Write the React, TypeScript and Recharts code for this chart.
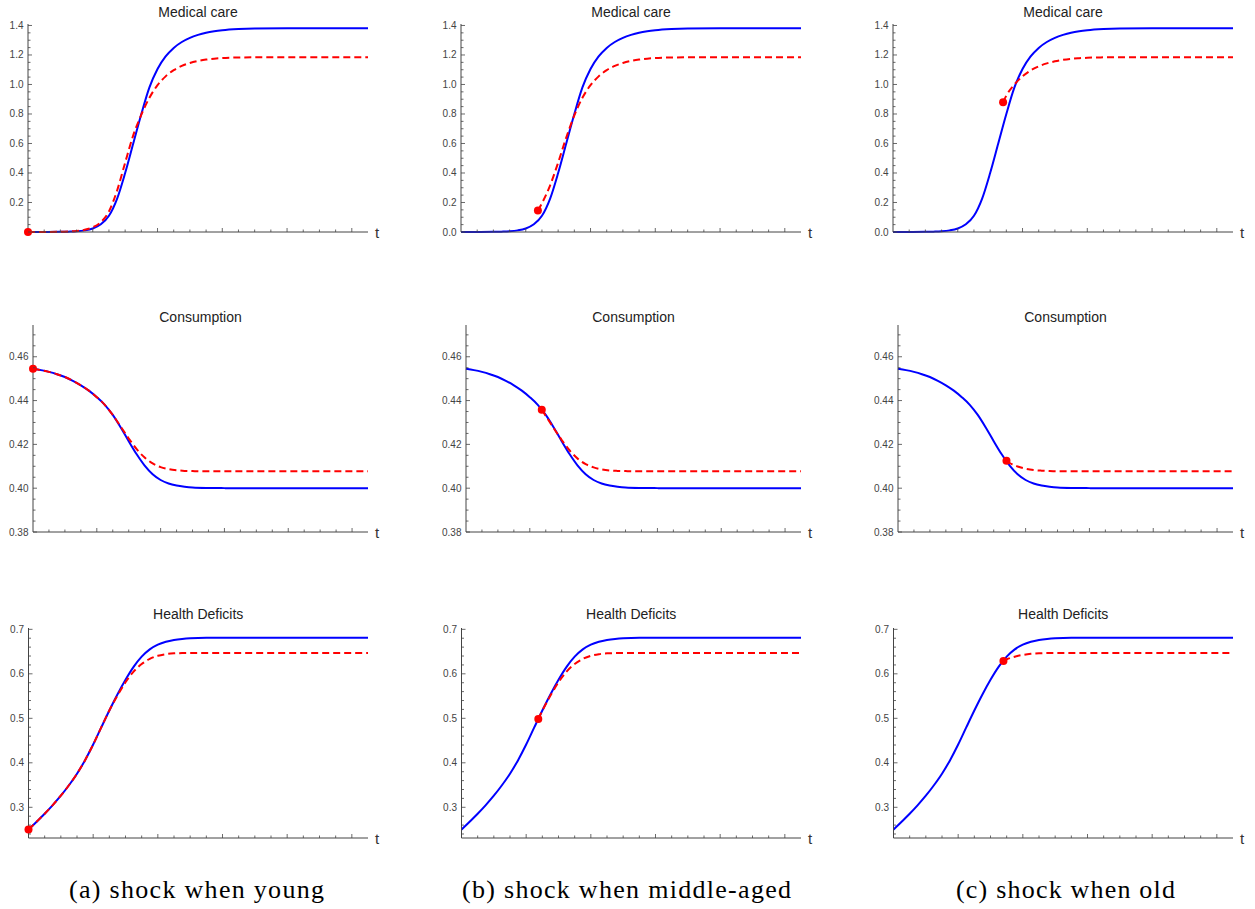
import React from 'react';
import { LineChart, Line, XAxis, YAxis, ReferenceDot } from 'recharts';

// ---------- Medical care ----------
const T_MED_BASE = [0, 1, 2, 2.5, 3, 3.5, 4, 4.5, 5, 5.5, 6, 6.5, 7, 7.5, 8, 8.5, 9, 9.5, 10, 10.5, 11, 11.5, 12, 13, 14, 16, 21];
const MED_BASE = [0, 0.0003, 0.001, 0.0025, 0.005, 0.011, 0.024, 0.052, 0.11, 0.225, 0.4, 0.6, 0.8, 0.98, 1.105, 1.19, 1.248, 1.288, 1.316, 1.336, 1.351, 1.361, 1.368, 1.376, 1.38, 1.382, 1.382];

const T_MED_A = [0, 1, 2, 2.5, 3, 3.5, 4, 4.5, 5, 5.5, 6, 6.5, 7, 7.5, 8, 8.5, 9, 9.5, 10, 10.5, 11, 11.5, 12, 13, 14, 21];
const MED_SHOCK_A = [0, 0.0005, 0.0015, 0.0035, 0.007, 0.015, 0.032, 0.067, 0.14, 0.28, 0.47, 0.655, 0.795, 0.91, 0.995, 1.055, 1.097, 1.126, 1.146, 1.16, 1.169, 1.175, 1.179, 1.183, 1.184, 1.185];

const T_MED_B = [4.75, 5, 5.5, 6, 6.5, 7, 7.5, 8, 8.5, 9, 9.5, 10, 10.5, 11, 11.5, 12, 13, 14, 21];
const MED_SHOCK_B = [0.145, 0.195, 0.315, 0.47, 0.64, 0.79, 0.91, 0.995, 1.055, 1.097, 1.126, 1.146, 1.16, 1.169, 1.175, 1.179, 1.183, 1.184, 1.185];

const T_MED_C = [6.8, 7, 7.5, 8, 8.5, 9, 9.5, 10, 10.5, 11, 11.5, 12, 13, 14, 21];
const MED_SHOCK_C = [0.88, 0.925, 1.0, 1.055, 1.095, 1.123, 1.143, 1.157, 1.167, 1.174, 1.178, 1.181, 1.184, 1.185, 1.185];

// ---------- Consumption ----------
const T_CON_BASE = [0, 0.5, 1, 1.5, 2, 2.5, 3, 3.5, 4, 4.5, 5, 5.5, 6, 6.5, 7, 7.5, 8, 8.5, 9, 9.5, 10, 11, 12, 13, 21];
const CON_BASE = [0.4545, 0.4539, 0.4531, 0.45205, 0.45075, 0.44902, 0.44698, 0.44455, 0.44156, 0.43806, 0.43344, 0.4277, 0.42145, 0.41546, 0.4103, 0.40636, 0.40374, 0.40216, 0.40124, 0.40069, 0.40033, 0.4001, 0.40003, 0.4, 0.4];

const T_CON_A = [0, 0.5, 1, 1.5, 2, 2.5, 3, 3.5, 4, 4.5, 5, 5.5, 6, 6.5, 7, 7.5, 8, 8.5, 9, 9.5, 10, 11, 21];
const CON_SHOCK_A = [0.4545, 0.4539, 0.4531, 0.45205, 0.45075, 0.44902, 0.44698, 0.44455, 0.44156, 0.43806, 0.43344, 0.4281, 0.4227, 0.4178, 0.414, 0.4113, 0.4096, 0.4087, 0.4082, 0.4079, 0.4078, 0.4077, 0.4077];

const T_CON_B = [4.75, 5, 5.5, 6, 6.5, 7, 7.5, 8, 8.5, 9, 9.5, 10, 11, 21];
const CON_SHOCK_B = [0.4358, 0.433, 0.4274, 0.422, 0.4172, 0.4135, 0.411, 0.4095, 0.4086, 0.4081, 0.4079, 0.4078, 0.4077, 0.4077];

const T_CON_C = [6.8, 7, 7.5, 8, 8.5, 9, 9.5, 10, 21];
const CON_SHOCK_C = [0.4125, 0.4115, 0.4099, 0.4089, 0.4083, 0.408, 0.4078, 0.4077, 0.4077];

// ---------- Health Deficits ----------
const T_HD_BASE = [0, 0.5, 1, 1.5, 2, 2.5, 3, 3.5, 4, 4.5, 5, 5.5, 6, 6.5, 7, 7.5, 8, 8.5, 9, 9.5, 10, 11, 12, 21];
const HD_BASE = [0.25, 0.2675, 0.2855, 0.305, 0.326, 0.3495, 0.3755, 0.406, 0.441, 0.4795, 0.5175, 0.5535, 0.5865, 0.6155, 0.6385, 0.655, 0.6655, 0.672, 0.676, 0.6785, 0.68, 0.681, 0.681, 0.681];

const T_HD_A = [0, 0.5, 1, 1.5, 2, 2.5, 3, 3.5, 4, 4.5, 5, 5.5, 6, 6.5, 7, 7.5, 8, 8.5, 9, 9.5, 10, 21];
const HD_SHOCK_A = [0.25, 0.2675, 0.2855, 0.305, 0.326, 0.3495, 0.3755, 0.406, 0.441, 0.4795, 0.5175, 0.551, 0.581, 0.605, 0.622, 0.6335, 0.6405, 0.6442, 0.646, 0.6467, 0.647, 0.647];

const T_HD_B = [4.75, 5, 5.5, 6, 6.5, 7, 7.5, 8, 8.5, 9, 9.5, 10, 21];
const HD_SHOCK_B = [0.4985, 0.5172, 0.551, 0.581, 0.605, 0.622, 0.6335, 0.6405, 0.6442, 0.646, 0.6467, 0.647, 0.647];

const T_HD_C = [6.8, 7, 7.5, 8, 8.5, 9, 9.5, 10, 21];
const HD_SHOCK_C = [0.629, 0.6325, 0.6385, 0.6425, 0.6449, 0.6462, 0.6468, 0.647, 0.647];

// ---------- Axes / labels ----------
const TITLES = ['Medical care', 'Consumption', 'Health Deficits'];
const CAPTIONS = ['(a) shock when young', '(b) shock when middle-aged', '(c) shock when old'];
const MED_MAJOR = [0, 0.2, 0.4, 0.6, 0.8, 1.0, 1.2, 1.4];
const CON_MAJOR = [0.38, 0.4, 0.42, 0.44, 0.46];
const HD_MAJOR = [0.3, 0.4, 0.5, 0.6, 0.7];
const X_TICKS = [1, 2, 3, 4, 5, 6, 7, 8, 9, 10, 11, 12, 13, 14, 15, 16, 17, 18, 19, 20];

const toData = (t: number[], v: number[]) => t.map((x, i) => ({ t: x, v: v[i] }));

const buildTicks = (lo: number, hi: number, step: number) => {
  const out: number[] = [];
  const n = Math.round((hi - lo) / step);
  for (let i = 0; i <= n; i++) out.push(+(lo + i * step).toFixed(4));
  return out;
};

const AX = '#444';
const SANS = "'Liberation Sans', Arial, sans-serif";

const COL_LEFT = [0, 433, 865];
const CHART_W = 400;
const PLOT_RIGHT = 368;

type RowCfg = {
  top: number;
  mTop: number;
  mBottom: number;
  yW: number;
  domain: [number, number];
  majors: number[];
  ticks: number[];
  fmt: (v: number) => string;
  base: { t: number; v: number }[];
  shocks: { t: number; v: number }[][];
};

const ROWS: RowCfg[] = [
  {
    top: 0, mTop: 24, mBottom: 27, yW: 28, domain: [0, 1.41], majors: MED_MAJOR,
    ticks: buildTicks(0, 1.4, 0.05), fmt: (v) => v.toFixed(1),
    base: toData(T_MED_BASE, MED_BASE),
    shocks: [toData(T_MED_A, MED_SHOCK_A), toData(T_MED_B, MED_SHOCK_B), toData(T_MED_C, MED_SHOCK_C)],
  },
  {
    top: 300, mTop: 25, mBottom: 27, yW: 33, domain: [0.38, 0.4745], majors: CON_MAJOR,
    ticks: buildTicks(0.38, 0.47, 0.005), fmt: (v) => v.toFixed(2),
    base: toData(T_CON_BASE, CON_BASE),
    shocks: [toData(T_CON_A, CON_SHOCK_A), toData(T_CON_B, CON_SHOCK_B), toData(T_CON_C, CON_SHOCK_C)],
  },
  {
    top: 600, mTop: 28, mBottom: 21, yW: 28.5, domain: [0.231, 0.703], majors: HD_MAJOR,
    ticks: buildTicks(0.24, 0.7, 0.02), fmt: (v) => v.toFixed(1),
    base: toData(T_HD_BASE, HD_BASE),
    shocks: [toData(T_HD_A, HD_SHOCK_A), toData(T_HD_B, HD_SHOCK_B), toData(T_HD_C, HD_SHOCK_C)],
  },
];

const makeYTick = (majors: number[], fmt: (v: number) => string, hideZero: boolean) => (props: any) => {
  const { x, y, payload } = props;
  const v = payload.value;
  const isMajor = majors.some((m) => Math.abs(m - v) < 1e-6);
  const showLabel = isMajor && !(hideZero && Math.abs(v) < 1e-9);
  return (
    <g>
      <line x1={x} x2={x + (isMajor ? 4 : 2.5)} y1={y} y2={y} stroke={AX} strokeWidth={0.8} />
      {showLabel && (
        <text x={x - 4.5} y={y} dy="0.35em" textAnchor="end" fontSize={10} fill={AX} fontFamily={SANS}>
          {fmt(v)}
        </text>
      )}
    </g>
  );
};

const XTick = (props: any) => {
  const { x, y, payload } = props;
  const major = payload.value % 4 === 0;
  return <line x1={x} x2={x} y1={y} y2={y - (major ? 4 : 2.5)} stroke={AX} strokeWidth={0.8} />;
};

const Panel = ({ row, col }: { row: RowCfg; col: number }) => {
  const shock = row.shocks[col];
  const first = shock[0];
  return (
    <div style={{ position: 'absolute', left: COL_LEFT[col], top: row.top, width: CHART_W, height: 260 }}>
      <LineChart
        width={CHART_W}
        height={260}
        margin={{ top: row.mTop, right: CHART_W - PLOT_RIGHT, bottom: row.mBottom, left: 0 }}
      >
        <XAxis
          type="number"
          dataKey="t"
          domain={[0, 21]}
          ticks={X_TICKS}
          interval={0}
          height={1}
          tickLine={false}
          tickSize={0}
          tickMargin={0}
          tick={XTick}
          axisLine={{ stroke: AX, strokeWidth: 1 }}
          label={{ value: 't', position: 'right', offset: 7, fill: '#333', fontSize: 15, fontFamily: SANS }}
        />
        <YAxis
          type="number"
          domain={row.domain}
          ticks={row.ticks}
          interval={0}
          width={row.yW}
          tickLine={false}
          tickSize={0}
          tickMargin={0}
          tick={makeYTick(row.majors, row.fmt, col === 0 && row.top === 0)}
          axisLine={{ stroke: AX, strokeWidth: 1 }}
        />
        <Line
          data={row.base}
          dataKey="v"
          type="monotone"
          stroke="#0000ff"
          strokeWidth={2}
          dot={false}
          activeDot={false}
          isAnimationActive={false}
        />
        <Line
          data={shock}
          dataKey="v"
          type="monotone"
          stroke="#ff0000"
          strokeWidth={2}
          strokeDasharray="7 4"
          dot={false}
          activeDot={false}
          isAnimationActive={false}
        />
        <ReferenceDot x={first.t} y={first.v} r={4} fill="#ff0000" stroke="none" ifOverflow="visible" />
      </LineChart>
    </div>
  );
};

const TITLE_BASELINES = [16.7, 321.7, 619];
const CAPTION_CENTERS = [196.5, 626.5, 1065.5];
const CAPTION_WIDTHS = [255, 329, 219];

export default function App() {
  return (
    <div style={{ position: 'absolute', left: 0, top: 0, width: 1255, height: 909, background: '#fff' }}>
      {ROWS.map((row, r) => [0, 1, 2].map((c) => <Panel key={`${r}-${c}`} row={row} col={c} />))}
      <svg width={1255} height={909} style={{ position: 'absolute', left: 0, top: 0, pointerEvents: 'none' }}>
        {ROWS.map((row, r) =>
          [0, 1, 2].map((c) => (
            <text
              key={`t${r}-${c}`}
              x={COL_LEFT[c] + (row.yW + PLOT_RIGHT) / 2}
              y={TITLE_BASELINES[r]}
              textAnchor="middle"
              fontSize={14}
              fill="#222"
              fontFamily={SANS}
            >
              {TITLES[r]}
            </text>
          ))
        )}
        {CAPTIONS.map((cap, i) => (
          <text
            key={cap}
            x={CAPTION_CENTERS[i]}
            y={898}
            textAnchor="middle"
            fontSize={26}
            fill="#000"
            fontFamily="'Liberation Serif', 'Times New Roman', serif"
            textLength={CAPTION_WIDTHS[i]}
            lengthAdjust="spacing"
          >
            {cap}
          </text>
        ))}
      </svg>
    </div>
  );
}
